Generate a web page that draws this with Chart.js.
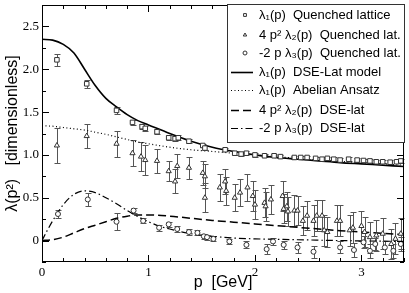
<!DOCTYPE html>
<html>
<head>
<meta charset="utf-8">
<script src="https://cdn.jsdelivr.net/npm/chart.js@4.4.0/dist/chart.umd.min.js"></script>
<style>
  html, body { margin: 0; padding: 0; background: #fff; }
</style>
</head>
<body>
<canvas id="chart" width="409" height="293"></canvas>
<script>
// model curves
const curveP = [0, 0.1, 0.2, 0.3, 0.4, 0.5, 0.6, 0.7, 0.8, 0.9, 1.0, 1.2, 1.4, 1.6, 1.8, 2.0, 2.2, 2.4, 2.6, 2.8, 3.0, 3.2, 3.4];
const dseLambda1 = [2.35, 2.34, 2.29, 2.19, 2.00, 1.81, 1.66, 1.56, 1.47, 1.40, 1.35, 1.25, 1.16, 1.09, 1.04, 1.00, 0.97, 0.95, 0.93, 0.91, 0.895, 0.88, 0.865];
const abelianLambda1 = [1.34, 1.335, 1.32, 1.305, 1.29, 1.265, 1.24, 1.21, 1.18, 1.15, 1.13, 1.09, 1.06, 1.04, 1.02, 1.00, 0.98, 0.96, 0.94, 0.925, 0.91, 0.895, 0.88];
const dseLambda2 = [0, 0.01, 0.04, 0.09, 0.14, 0.18, 0.22, 0.26, 0.285, 0.30, 0.30, 0.285, 0.26, 0.235, 0.215, 0.195, 0.175, 0.155, 0.135, 0.115, 0.10, 0.085, 0.07];
const curveP3 = [0, 0.05, 0.1, 0.15, 0.2, 0.3, 0.4, 0.5, 0.6, 0.7, 0.8, 0.9, 1.0, 1.1, 1.2, 1.4, 1.6, 1.8, 2.0, 2.4, 2.8, 3.4];
const dseLambda3 = [0, 0.12, 0.23, 0.33, 0.42, 0.54, 0.58, 0.56, 0.50, 0.43, 0.35, 0.28, 0.22, 0.17, 0.135, 0.08, 0.05, 0.03, 0.02, 0.01, 0.0, -0.01];

// quenched lattice: lambda1
const latP1 = [0.14, 0.42, 0.70, 0.85, 0.94, 0.97, 1.08, 1.19, 1.25, 1.28, 1.38, 1.51, 1.53, 1.72, 1.81, 1.87, 1.92, 2.00, 2.09, 2.18, 2.24, 2.37, 2.43, 2.49, 2.57, 2.63, 2.68, 2.74, 2.80, 2.88, 2.96, 3.02, 3.08, 3.14, 3.20, 3.27, 3.33, 3.37];
const latL1 = [2.11, 1.83, 1.52, 1.38, 1.33, 1.31, 1.27, 1.20, 1.19, 1.20, 1.16, 1.11, 1.08, 1.06, 1.02, 1.01, 1.02, 1.00, 0.99, 0.99, 0.98, 0.97, 0.97, 0.97, 0.96, 0.95, 0.96, 0.95, 0.94, 0.95, 0.94, 0.935, 0.93, 0.92, 0.92, 0.915, 0.92, 0.93];
const latE1 = [0.07, 0.05, 0.04, 0.03, 0.03, 0.03, 0.03, 0.03, 0.03, 0.03, 0.02, 0.02, 0.02, 0.02, 0.02, 0.02, 0.02, 0.02, 0.02, 0.02, 0.02, 0.02, 0.02, 0.02, 0.02, 0.02, 0.02, 0.02, 0.02, 0.02, 0.02, 0.02, 0.02, 0.02, 0.02, 0.02, 0.02, 0.02];

// quenched lattice: 4 p^2 lambda2
const latP2 = [0.14, 0.42, 0.70, 0.85, 0.93, 0.97, 1.08, 1.19, 1.25, 1.27, 1.38, 1.51, 1.53, 1.53, 1.67, 1.72, 1.73, 1.81, 1.86, 1.93, 1.98, 2.00, 2.09, 2.10, 2.15, 2.26, 2.27, 2.30, 2.31, 2.37, 2.40, 2.45, 2.49, 2.55, 2.58, 2.63, 2.65, 2.68, 2.77, 2.80, 2.89, 2.92, 3.00, 3.03, 3.08, 3.14, 3.20, 3.28, 3.32, 3.37];
const latL2 = [1.11, 1.22, 1.13, 1.02, 0.98, 0.94, 0.93, 0.81, 0.69, 0.87, 0.85, 0.79, 0.75, 0.50, 0.62, 0.69, 0.58, 0.50, 0.56, 0.62, 0.52, 0.42, 0.44, 0.40, 0.48, 0.52, 0.37, 0.40, 0.34, 0.35, 0.35, 0.23, 0.29, 0.23, 0.29, 0.29, 0.12, 0.10, 0.23, 0.23, 0.12, 0.15, 0.17, 0.10, 0.04, 0.06, 0.08, -0.04, 0.02, 0.08];
const latE2 = [0.21, 0.14, 0.15, 0.15, 0.17, 0.17, 0.14, 0.12, 0.14, 0.14, 0.13, 0.14, 0.14, 0.17, 0.16, 0.15, 0.16, 0.16, 0.16, 0.16, 0.17, 0.17, 0.17, 0.17, 0.17, 0.18, 0.17, 0.17, 0.17, 0.18, 0.17, 0.17, 0.17, 0.18, 0.18, 0.18, 0.18, 0.18, 0.18, 0.18, 0.18, 0.18, 0.18, 0.18, 0.18, 0.18, 0.18, 0.18, 0.18, 0.18];

// quenched lattice: -2 p lambda3
const latP3 = [0.15, 0.43, 0.70, 0.86, 0.95, 1.10, 1.19, 1.27, 1.38, 1.46, 1.52, 1.55, 1.61, 1.76, 1.92, 2.11, 2.17, 2.27, 2.40, 2.55, 2.80, 2.93, 3.02, 3.08, 3.13, 3.22, 3.30, 3.37];
const latL3 = [0.31, 0.48, 0.22, 0.35, 0.23, 0.15, 0.19, 0.135, 0.10, 0.09, 0.05, 0.04, 0.02, -0.01, -0.05, -0.10, -0.01, -0.05, -0.08, -0.13, -0.08, -0.11, -0.02, -0.12, -0.04, -0.08, -0.12, -0.04];
const latE3 = [0.05, 0.08, 0.10, 0.03, 0.03, 0.035, 0.03, 0.03, 0.03, 0.03, 0.03, 0.03, 0.03, 0.03, 0.04, 0.06, 0.04, 0.05, 0.06, 0.07, 0.07, 0.08, 0.07, 0.08, 0.07, 0.08, 0.08, 0.08];

const xTicks = [0, 1, 2, 3];
const yTicks = [0, 0.5, 1, 1.5, 2, 2.5];

const toXY = (xs, ys) => xs.map((x, i) => ({ x: x, y: ys[i] }));

const serif = "'Liberation Serif', 'Times New Roman', serif";
const sans = "'Liberation Sans', Arial, sans-serif";

// error bars drawn through the scales
const errorBars = {
  id: 'errorBars',
  beforeDatasetsDraw(chart) {
    const { ctx, scales: { x, y } } = chart;
    ctx.save();
    ctx.strokeStyle = '#555';
    ctx.lineWidth = 1;
    chart.data.datasets.forEach(ds => {
      if (!ds.errors) return;
      ctx.beginPath();
      ds.data.forEach((pt, i) => {
        const px = Math.round(x.getPixelForValue(pt.x)) + 0.5;
        const y1 = Math.round(y.getPixelForValue(pt.y + ds.errors[i])) + 0.5;
        const y2 = Math.round(y.getPixelForValue(pt.y - ds.errors[i])) + 0.5;
        ctx.moveTo(px, y1); ctx.lineTo(px, y2);
        ctx.moveTo(px - 3, y1); ctx.lineTo(px + 3, y1);
        ctx.moveTo(px - 3, y2); ctx.lineTo(px + 3, y2);
      });
      ctx.stroke();
    });
    ctx.restore();
  }
};

// box with inward ticks on all four sides
const frameTicks = {
  id: 'frameTicks',
  afterDatasetsDraw(chart) {
    const { ctx, chartArea: a, scales: { x, y } } = chart;
    ctx.save();
    ctx.strokeStyle = '#000';
    ctx.lineWidth = 1;
    ctx.strokeRect(a.left + 0.5, a.top + 0.5, a.right - a.left - 1, a.bottom - a.top - 1);
    ctx.beginPath();
    for (let i = 0; i <= 17; i++) {
      const px = Math.round(x.getPixelForValue(i * 0.2)) + 0.5;
      const len = i % 5 === 0 ? 7 : 4;
      ctx.moveTo(px, a.bottom); ctx.lineTo(px, a.bottom - len);
      ctx.moveTo(px, a.top); ctx.lineTo(px, a.top + len);
    }
    for (let i = -1; i <= 11; i++) {
      const py = Math.round(y.getPixelForValue(i * 0.25)) + 0.5;
      const len = i % 2 === 0 ? 7 : 4;
      ctx.moveTo(a.left, py); ctx.lineTo(a.left + len, py);
      ctx.moveTo(a.right, py); ctx.lineTo(a.right - len, py);
    }
    ctx.stroke();
    ctx.restore();
  }
};

// framed legend in the upper right corner
const boxLegend = {
  id: 'boxLegend',
  afterDraw(chart) {
    const { ctx } = chart;
    const rows = [15, 35, 53, 72, 90, 110, 128];
    const bx = 227, by = 4, bw = 177, bh = 138;
    ctx.save();
    ctx.fillStyle = '#fff';
    ctx.fillRect(bx, by, bw, bh);
    ctx.strokeStyle = '#333';
    ctx.lineWidth = 1;
    ctx.strokeRect(bx + 0.5, by + 0.5, bw, bh);
    ctx.font = '13px ' + sans;
    ctx.textBaseline = 'middle';
    ctx.fillStyle = '#000';
    chart.data.datasets.forEach((ds, i) => {
      const ry = rows[i];
      if (ds.showLine) {
        ctx.save();
        ctx.strokeStyle = ds.borderColor;
        ctx.lineWidth = ds.borderWidth;
        ctx.setLineDash(ds.borderDash || []);
        ctx.beginPath();
        ctx.moveTo(231, ry + 0.5); ctx.lineTo(253, ry + 0.5);
        ctx.stroke();
        ctx.restore();
      } else {
        ctx.save();
        ctx.strokeStyle = ds.borderColor;
        ctx.fillStyle = '#fff';
        ctx.lineWidth = 1;
        Chart.helpers.drawPoint(ctx, { pointStyle: ds.pointStyle, radius: 2, borderWidth: 1 }, 245, ry);
        ctx.restore();
      }
      ctx.fillText(ds.label, 259, ry);
    });
    ctx.restore();
  }
};

const pointSet = (label, xs, ys, errs, style, r) => ({
  label: label,
  data: toXY(xs, ys),
  errors: errs,
  showLine: false,
  pointStyle: style,
  pointRadius: r,
  pointBorderWidth: 1,
  borderColor: '#333',
  backgroundColor: '#fff',
  order: 1
});

const lineSet = (label, xs, ys, width, dash) => ({
  label: label,
  data: toXY(xs, ys),
  showLine: true,
  pointRadius: 0,
  borderColor: '#000',
  borderWidth: width,
  borderDash: dash,
  cubicInterpolationMode: 'monotone',
  order: 2
});

new Chart(document.getElementById('chart'), {
  type: 'scatter',
  data: {
    datasets: [
      pointSet('λ₁(p)  Quenched lattice', latP1, latL1, latE1, 'rect', 3.2),
      pointSet('4 p² λ₂(p)  Quenched lat.', latP2, latL2, latE2, 'triangle', 3),
      pointSet('-2 p λ₃(p)  Quenched lat.', latP3, latL3, latE3, 'circle', 2.5),
      lineSet('λ₁(p)  DSE-Lat model', curveP, dseLambda1, 1.6, []),
      lineSet('λ₁(p)  Abelian Ansatz', curveP, abelianLambda1, 1.2, [1, 2.5]),
      lineSet('4 p² λ₂(p)  DSE-lat', curveP, dseLambda2, 1.5, [8, 4]),
      lineSet('-2 p λ₃(p)  DSE-lat', curveP3, dseLambda3, 1.2, [7, 3, 1.5, 3])
    ]
  },
  options: {
    responsive: false,
    animation: false,
    layout: { padding: { top: 2, right: 1, left: 0, bottom: 0 } },
    plugins: { legend: { display: false }, tooltip: { enabled: false } },
    scales: {
      x: {
        type: 'linear',
        min: 0,
        max: 3.4,
        afterBuildTicks: s => { s.ticks = xTicks.map(v => ({ value: v })); },
        afterFit: s => { s.height = 31; s.paddingLeft = 0; s.paddingRight = 0; },
        grid: { display: false, drawTicks: false },
        border: { display: false },
        ticks: { padding: 3, maxRotation: 0, color: '#000', font: { family: serif, size: 13 } },
        title: { display: true, text: 'p  [GeV]', color: '#000', font: { family: sans, size: 16 }, padding: { top: 0, bottom: 1 } }
      },
      y: {
        type: 'linear',
        min: -0.25,
        max: 2.75,
        afterBuildTicks: s => { s.ticks = yTicks.map(v => ({ value: v })); },
        afterFit: s => { s.width = 42; s.paddingTop = 0; s.paddingBottom = 0; },
        grid: { display: false, drawTicks: false },
        border: { display: false },
        ticks: { padding: 3, color: '#000', font: { family: serif, size: 13 } },
        title: { display: true, text: 'λ(p²)   [dimensionless]', color: '#000', font: { family: sans, size: 16 }, padding: { top: 3, bottom: 0 } }
      }
    }
  },
  plugins: [errorBars, frameTicks, boxLegend]
});
</script>
</body>
</html>
